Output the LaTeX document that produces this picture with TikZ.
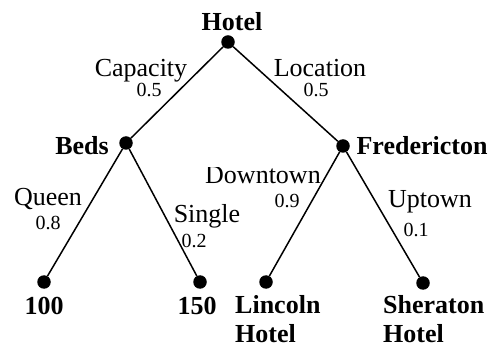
\documentclass[tikz,border=0pt]{standalone}
\usepackage{fontspec}
\setmainfont{Liberation Serif}
\begin{document}
\begin{tikzpicture}[x=1pt,y=-1pt,
  dot/.style={circle,fill=black,inner sep=0pt,minimum size=13.5pt},
  branch/.style={line width=1.5pt},
  treelabel/.style={font=\fontsize{26}{29}\selectfont\bfseries,inner sep=0pt,anchor=base},
  branchtext/.style={font=\fontsize{26}{29}\selectfont,inner sep=0pt,anchor=base},
  probtext/.style={font=\fontsize{20}{24}\selectfont,inner sep=0pt,anchor=base}]
\useasboundingbox (0,0) rectangle (495,347);

% tree nodes
\node[dot] (hotel) at (228,42) {};
\node[dot] (beds) at (126,143) {};
\node[dot] (fred) at (343,146) {};
\node[dot] (n100) at (44,282) {};
\node[dot] (n150) at (200,282) {};
\node[dot] (lincoln) at (266,282) {};
\node[dot] (sheraton) at (423,283) {};

% branches
\draw[branch] (hotel) -- (beds);
\draw[branch] (hotel) -- (fred);
\draw[branch] (beds) -- (n100);
\draw[branch] (beds) -- (n150);
\draw[branch] (fred) -- (lincoln);
\draw[branch] (fred) -- (sheraton);

% node names (two-line names sit on the baseline of their last line)
\node[treelabel] (hotelname) at (232,31) {Hotel};
\node[treelabel] (bedsname) at (82,155) {Beds};
\node[treelabel] (fredname) at (422,155) {Fredericton};
\node[treelabel] (v100) at (44,314) {100};
\node[treelabel] (v150) at (197,314) {150};
\node[treelabel,align=left,anchor=base west] (lincolnname) at (235,342) {Lincoln\\Hotel};
\node[treelabel,align=left,anchor=base west] (sheratonname) at (383,342) {Sheraton\\Hotel};

% branch labels and probabilities
\node[branchtext] (capacity) at (141,77) {Capacity};
\node[probtext] (pcapacity) at (149,97) {0.5};
\node[branchtext] (location) at (320,77) {Location};
\node[probtext] (plocation) at (316,97) {0.5};
\node[branchtext] (queen) at (48,206) {Queen};
\node[probtext] (pqueen) at (48,230) {0.8};
\node[branchtext] (single) at (207,223) {Single};
\node[probtext] (psingle) at (194,248) {0.2};
\begin{scope}
  \clip (200,167.5) rectangle (330,195);
  \node[branchtext] (downtown) at (263,184) {Downtown};
\end{scope}
\node[probtext] (pdowntown) at (287,208) {0.9};
\node[branchtext] (uptown) at (430,208) {Uptown};
\node[probtext] (puptown) at (416,237) {0.1};
\end{tikzpicture}
\end{document}
